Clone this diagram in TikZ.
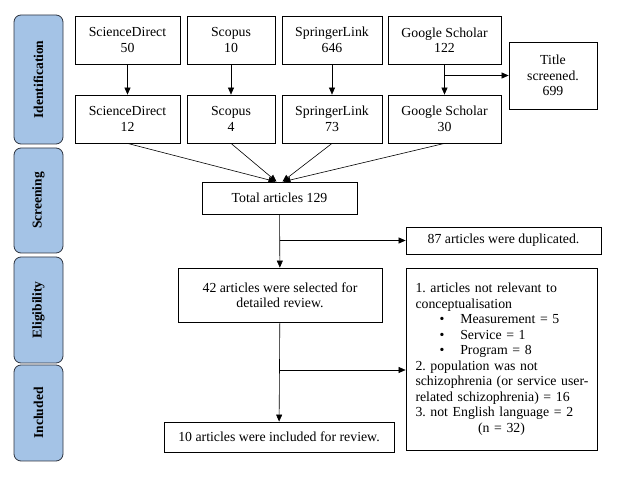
\documentclass[tikz,border=0pt]{standalone}
\usepackage{fontspec}
\setmainfont{Liberation Serif}
\usetikzlibrary{arrows.meta}
\definecolor{PBlue}{HTML}{A4C3E6}
\definecolor{PEdge}{HTML}{2E3440}

\begin{document}
\begin{tikzpicture}[
  x=1pt,y=-1pt,
  font=\fontsize{13.8}{15.5}\selectfont,
  box/.style={draw,thick,inner sep=2pt,align=center,minimum height=48},
  phase/.style={draw=PEdge,thick,rounded corners=7pt,fill=PBlue,rotate=90,
    minimum height=49,font=\fontsize{13.5}{15}\selectfont\bfseries},
  a/.style={-{Triangle[length=7pt,width=6pt]},semithick}
]
  \useasboundingbox (0,0) rectangle (622,478);
  % phases
  \node[phase,minimum width=129] (ident) at (38.5,79.5) {Identification};
  \node[phase,minimum width=105] (screen) at (38.5,200.5) {Screening};
  \node[phase,minimum width=106] (elig) at (38.5,310) {Eligibility};
  \node[phase,minimum width=96] (incl) at (38.5,413) {Included};
  % databases
  \node[box,minimum width=105] (sd1) at (127.5,40) {ScienceDirect\\50};
  \node[box,minimum width=88] (sc1) at (231,40) {Scopus\\10};
  \node[box,minimum width=100] (sl1) at (332,40) {SpringerLink\\646};
  \node[box,minimum width=113] (gs1) at (444.5,40) {Google Scholar\\122};
  \node[box,minimum width=105] (sd2) at (127.5,119) {ScienceDirect\\12};
  \node[box,minimum width=88] (sc2) at (231,119) {Scopus\\4};
  \node[box,minimum width=100] (sl2) at (332,119) {SpringerLink\\73};
  \node[box,minimum width=113] (gs2) at (444.5,119) {Google Scholar\\30};
  \node[box,minimum width=88,minimum height=67] (title) at (553,75.5) {Title\\screened.\\699};
  \foreach \x in {sd,sc,sl,gs}
    {\draw[a] (\x1) -- (\x2);}
  \draw[a] (gs1.south |- title.west) -- (title.west);
  % screening
  \node[box,minimum width=155,minimum height=32] (total) at (279.5,198) {Total articles 129};
  \foreach \x/\d in {sd2/-4,sc2/-3,sl2/3,gs2/4}
    {\draw[a] (\x.south) -- ([xshift=\d]total.north);}
  \node[box,minimum width=195,minimum height=27] (dup) at (503.5,240.5) {87 articles were duplicated.};
  % eligibility
  \node[box,minimum width=204,minimum height=54] (sel) at (280,295) {42 articles were selected for\\detailed review.};
  \draw[a] (total) -- (sel);
  \draw[a] (total.south |- dup.west) -- (dup.west);
  \node[box,minimum width=191,minimum height=182,text width=172,inner xsep=9.5pt,align=left] (excl) at (501.5,359)
    {1.\ articles not relevant to\\
     conceptualisation\\
     \hspace*{24pt}\textbullet\hspace{16pt}Measurement = 5\\
     \hspace*{24pt}\textbullet\hspace{16pt}Service = 1\\
     \hspace*{24pt}\textbullet\hspace{16pt}Program = 8\\
     2.\ population was not\\
     \mbox{schizophrenia (or service user-}\\
     related schizophrenia) = 16\\
     3.\ not English language = 2\\
     \makebox[\linewidth]{(n = 32)}};
  % included
  \node[box,minimum width=230,minimum height=30] (done) at (279,437) {10 articles were included for review.};
  \draw[a] (sel) -- (done);
  \coordinate (split) at (280,370);
  \draw[a] (split) -- (split -| excl.west);
\end{tikzpicture}
\end{document}
